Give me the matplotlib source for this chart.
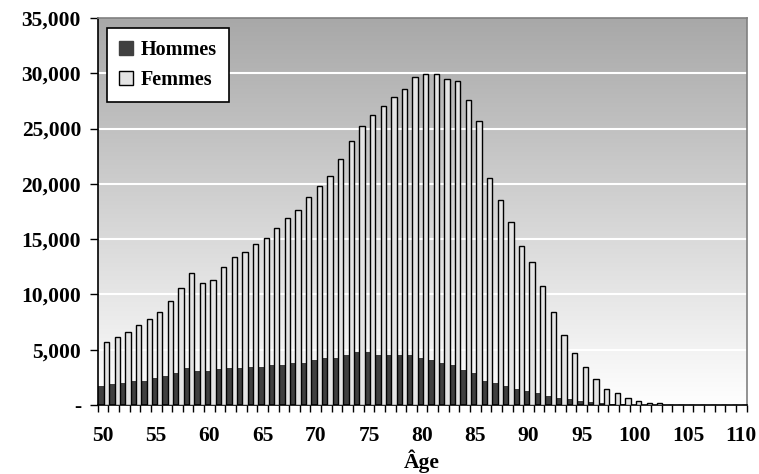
import numpy as np
import matplotlib
matplotlib.use("Agg")
import matplotlib.pyplot as plt
from matplotlib.patches import Patch
from matplotlib.colors import LinearSegmentedColormap

ages = list(range(50, 111))
hommes = [1720, 1870, 2020, 2170, 2170, 2470, 2620, 2920, 3380, 3080,
          3080, 3230, 3380, 3380, 3470, 3470, 3620, 3620, 3770, 3830,
          4070, 4220, 4220, 4520, 4760, 4760, 4520, 4520, 4520, 4520,
          4220, 4070, 3770, 3620, 3170, 2860, 2170, 2020, 1720, 1420,
          1270, 1120, 810, 660, 510, 360, 270, 150, 100, 60,
          30, 10, 5, 0, 0, 0, 0, 0, 0, 0, 0]
femmes = [5730, 6180, 6630, 7240, 7780, 8380, 9430, 10610, 11910, 11010,
          11310, 12510, 13390, 13810, 14530, 15130, 16010, 16890, 17610, 18780,
          19840, 20710, 22280, 23880, 25230, 26260, 27010, 27890, 28610, 29630,
          29940, 29940, 29480, 29330, 27580, 25690, 20560, 18510, 16580, 14410,
          12950, 10750, 8400, 6330, 4730, 3440, 2380, 1480, 1090, 630,
          330, 210, 180, 0, 0, 0, 0, 0, 0, 0, 0]
xlabels = [str(a) if a % 5 == 0 else "" for a in ages]

plt.rcParams['font.family'] = ['Liberation Serif', 'DejaVu Serif']
plt.rcParams['font.weight'] = 'bold'

fig = plt.figure(figsize=(7.59, 4.74), dpi=100)
ax = fig.add_axes([0.1287, 0.1456, 0.855, 0.8164])

n = len(ages)
x = np.arange(n)

# gradient background
cmap = LinearSegmentedColormap.from_list("bg", ["#ffffff", "#a8a8a8"])
grad = np.linspace(0, 1, 256).reshape(-1, 1)
ax.imshow(grad, extent=[0, n, 0, 35000], aspect='auto', cmap=cmap,
          origin='lower', zorder=0)

for v in range(5000, 35000, 5000):
    ax.axhline(v, color='white', lw=1.5, zorder=1)

ax.bar(x + 0.3, hommes, width=0.6, color='#404040', linewidth=0, zorder=2)
ax.bar(x + 0.84, femmes, width=0.5, color='#e4e4e4', edgecolor='black',
       linewidth=1.0, zorder=3)

ax.set_xlim(0, n)
ax.set_ylim(0, 35000)

ax.set_yticks(range(0, 35001, 5000))
ax.set_yticklabels(["-" if v == 0 else f"{v:,}" for v in range(0, 35001, 5000)],
                   fontsize=15.5, fontweight='bold')
ax.tick_params(axis='y', length=6, width=1, color='black', pad=6)

ax.set_xticks(x + 0.5)
ax.set_xticklabels(xlabels, fontsize=15.5, fontweight='bold')
ax.set_xticks(np.arange(n + 1), minor=True)
ax.tick_params(axis='x', which='major', length=0, pad=15)
ax.tick_params(axis='x', which='minor', length=5, width=1, color='black')

ax.set_xlabel("Âge", fontsize=15.5, fontweight='bold', labelpad=3)

for s in ['left', 'bottom']:
    ax.spines[s].set_color('black')
    ax.spines[s].set_linewidth(1.2)
for s in ['top', 'right']:
    ax.spines[s].set_color('#808080')
    ax.spines[s].set_linewidth(1.2)

handles = [Patch(facecolor='#404040', edgecolor='#404040', label='Hommes'),
           Patch(facecolor='#e4e4e4', edgecolor='black', label='Femmes')]
leg = ax.legend(handles=handles, loc='upper left', bbox_to_anchor=(0.014, 0.975),
                frameon=True, fancybox=False, framealpha=1, edgecolor='black',
                prop={'family': 'Liberation Serif', 'weight': 'bold', 'size': 14.5},
                handlelength=0.7, handleheight=0.7, handletextpad=0.4,
                borderpad=0.6, labelspacing=0.5, borderaxespad=0)
leg.get_frame().set_linewidth(1.2)
leg.set_zorder(5)

fig.savefig("out.png", dpi=100)
